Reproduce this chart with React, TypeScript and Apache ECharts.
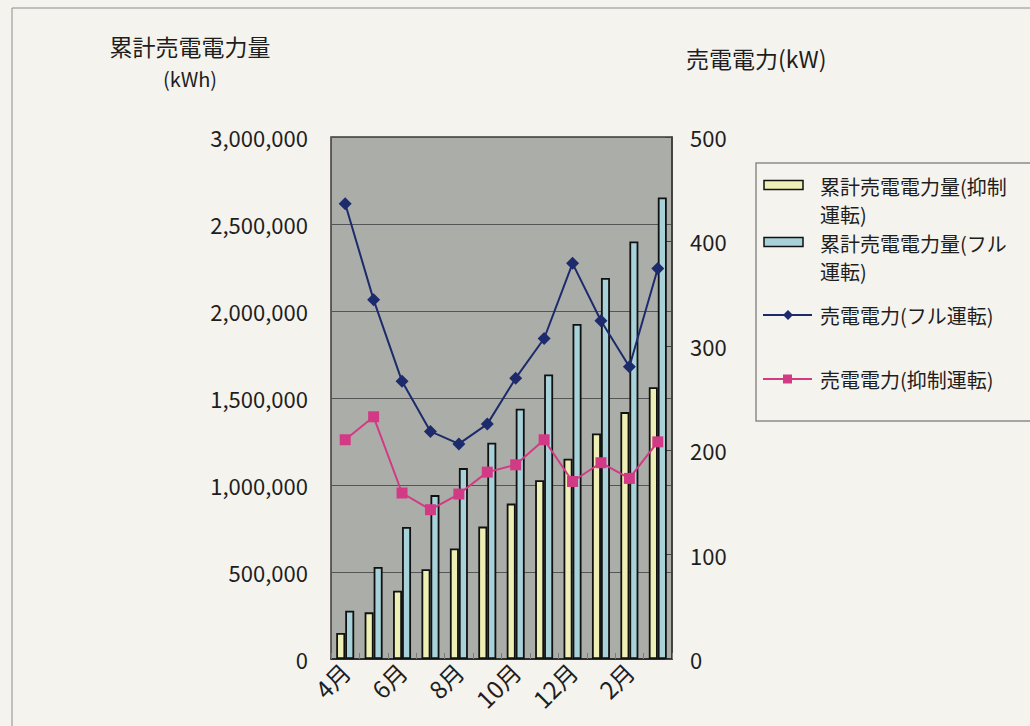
import React, { useEffect, useRef } from "react";
import * as echarts from "echarts";

const months = ["4月", "5月", "6月", "7月", "8月", "9月", "10月", "11月", "12月", "1月", "2月", "3月"];
const cumSuppressed = [149000, 268000, 392000, 516000, 635000, 761000, 893000, 1027000, 1151000, 1296000, 1419000, 1562000];
const cumFull = [277000, 529000, 759000, 942000, 1097000, 1243000, 1438000, 1635000, 1926000, 2190000, 2400000, 2652000];
const powerFull = [436, 344, 266, 218, 206, 225, 269, 307, 379, 324, 280, 374];
const powerSuppressed = [210, 232, 159, 143, 158, 179, 186, 210, 170, 188, 173, 208];

const seriesNames = [
  "累計売電電力量(抑制運転)",
  "累計売電電力量(フル運転)",
  "売電電力(フル運転)",
  "売電電力(抑制運転)",
];
const legendLines = [
  ["累計売電電力量(抑制", "運転)"],
  ["累計売電電力量(フル", "運転)"],
  ["売電電力(フル運転)"],
  ["売電電力(抑制運転)"],
];
const leftTitle = ["累計売電電力量", "(kWh)"];
const rightTitle = "売電電力(kW)";

const FONT = "'Noto Sans CJK JP', 'Noto Sans', sans-serif";
const YELLOW = "#eeefb4";
const BLUE = "#a8d2d9";
const NAVY = "#1d2a6c";
const PINK = "#d33a85";
const TEXT = "#1e1e1e";

export default function App() {
  const ref = useRef<HTMLDivElement>(null);
  useEffect(() => {
    document.body.style.margin = "0";
    document.body.style.background = "#f5f3ee";
    if (!ref.current) return;
    const chart = echarts.init(ref.current, null, { renderer: "svg" });

    const legendTop = [185, 242, 315, 379];
    const legendGraphics: any[] = [];
    seriesNames.forEach((_, i) => {
      const y = legendTop[i];
      if (i < 2) {
        legendGraphics.push({
          type: "rect",
          shape: { x: 764, y: y - 4.5, width: 39, height: 9 },
          style: { fill: i === 0 ? YELLOW : BLUE, stroke: "#111", lineWidth: 1.5 },
        });
      } else {
        const c = i === 2 ? NAVY : PINK;
        legendGraphics.push({
          type: "line",
          shape: { x1: 763, y1: y, x2: 812, y2: y },
          style: { stroke: c, lineWidth: 2 },
        });
        if (i === 2) {
          legendGraphics.push({
            type: "polygon",
            shape: { points: [[788, y - 5], [793, y], [788, y + 5], [783, y]] },
            style: { fill: c },
          });
        } else {
          legendGraphics.push({
            type: "rect",
            shape: { x: 783, y: y - 4.5, width: 9, height: 9 },
            style: { fill: c },
          });
        }
      }
      legendLines[i].forEach((line, j) => {
        legendGraphics.push({
          type: "text",
          x: 820,
          y: (i < 2 ? y + 1 : y) + j * 28,
          style: {
            text: line,
            font: `20px ${FONT}`,
            fill: TEXT,
            verticalAlign: "middle",
          },
        });
      });
    });

    chart.setOption({
      animation: false,
      backgroundColor: "#f5f3ee",
      textStyle: { fontFamily: FONT },
      grid: { left: 331, top: 137, width: 341, height: 522, show: true, backgroundColor: "#abaea8", borderColor: "#3a3a3a", borderWidth: 1.5 },
      graphic: [
        { type: "rect", shape: { x: 12, y: 8, width: 1040, height: 740 }, style: { fill: "none", stroke: "#8c8c8c", lineWidth: 1 } },
        { type: "rect", shape: { x: 756, y: 163, width: 300, height: 258 }, style: { fill: "none", stroke: "#8c8c8c", lineWidth: 1.5 } },
        { type: "text", x: 190, y: 46, style: { text: leftTitle[0], font: `23px ${FONT}`, fill: TEXT, align: "center", verticalAlign: "middle" } },
        { type: "text", x: 190, y: 78, style: { text: leftTitle[1], font: `20px ${FONT}`, fill: TEXT, align: "center", verticalAlign: "middle" } },
        { type: "text", x: 686, y: 58, style: { text: rightTitle, font: `23px ${FONT}`, fill: TEXT, align: "left", verticalAlign: "middle" } },
        ...legendGraphics,
      ],
      xAxis: {
        type: "category",
        data: months,
        axisLine: { show: true, lineStyle: { color: "#222", width: 1.5 } },
        axisTick: { show: true, inside: true, interval: 0, length: 6, lineStyle: { color: "#7a7a7a" } },
        axisLabel: { interval: 1, rotate: 45, fontSize: 24, color: TEXT, margin: 8, fontFamily: FONT },
      },
      yAxis: [
        {
          type: "value",
          min: 0,
          max: 3000000,
          interval: 500000,
          axisLine: { show: false },
          axisTick: { show: false },
          splitLine: { show: true, lineStyle: { color: "#555", width: 1 } },
          axisLabel: {
            fontSize: 22,
            color: TEXT,
            margin: 23,
            fontFamily: FONT,
            formatter: (v: number) => v.toLocaleString("en-US"),
          },
        },
        {
          type: "value",
          position: "right",
          min: 0,
          max: 500,
          interval: 100,
          axisLine: { show: true, lineStyle: { color: "#3a3a3a", width: 1.5 } },
          axisTick: { show: true, inside: true, length: 7, lineStyle: { color: "#444" } },
          splitLine: { show: false },
          axisLabel: { fontSize: 22, color: TEXT, margin: 18, fontFamily: FONT },
        },
      ],
      series: [
        {
          name: seriesNames[0],
          type: "bar",
          data: cumSuppressed,
          barWidth: 9,
          barGap: "0%",
          itemStyle: { color: YELLOW, borderColor: "#111", borderWidth: 1.8 },
        },
        {
          name: seriesNames[1],
          type: "bar",
          data: cumFull,
          barWidth: 9,
          barGap: "0%",
          itemStyle: { color: BLUE, borderColor: "#111", borderWidth: 1.8 },
        },
        {
          name: seriesNames[2],
          type: "line",
          yAxisIndex: 1,
          data: powerFull,
          symbol: "diamond",
          symbolSize: 13,
          lineStyle: { color: NAVY, width: 2 },
          itemStyle: { color: NAVY },
          z: 5,
        },
        {
          name: seriesNames[3],
          type: "line",
          yAxisIndex: 1,
          data: powerSuppressed,
          symbol: "rect",
          symbolSize: 11,
          lineStyle: { color: PINK, width: 2 },
          itemStyle: { color: PINK },
          z: 5,
        },
      ],
    });
    return () => chart.dispose();
  }, []);
  return <div ref={ref} style={{ width: 1030, height: 726 }} />;
}
